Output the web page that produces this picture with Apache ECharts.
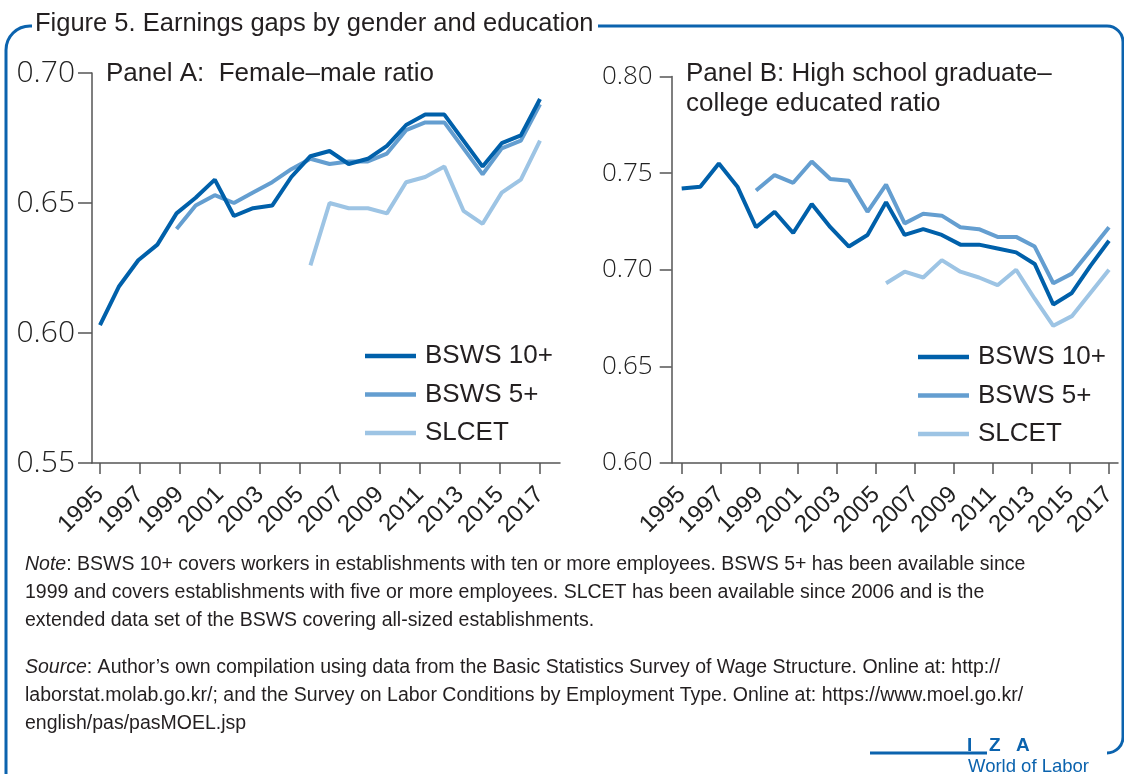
<!DOCTYPE html>
<html>
<head>
<meta charset="utf-8">
<title>Earnings gaps by gender and education</title>
<script src="https://cdn.jsdelivr.net/npm/echarts@6/dist/echarts.min.js"></script>
<style>
  html, body { margin: 0; padding: 0; background: #fff; }
  #chart { width: 1124px; height: 774px; }
</style>
</head>
<body>
<div id="chart"></div>
<script>
// data years (one point per year) and the years printed under the axis
const years = ['1995','1996','1997','1998','1999','2000','2001','2002','2003','2004','2005','2006',
  '2007','2008','2009','2010','2011','2012','2013','2014','2015','2016','2017','2018']
const tickYears = ['1995','1996','1997','1998','1999','2000','2001','2002','2003','2004','2005','2006',
  '2007','2008','2009','2010','2011','2012','2013','2014','2015','2016','2017']

// Panel A: female-male ratio
const femBsws10 = [0.603, 0.618, 0.628, 0.634, 0.646, 0.652, 0.659, 0.645, 0.648, 0.649, 0.660, 0.668,
  0.670, 0.665, 0.667, 0.672, 0.680, 0.684, 0.684, 0.674, 0.664, 0.673, 0.676, 0.690]
const femBsws5 = [null, null, null, null, 0.640, 0.649, 0.653, 0.650, 0.654, 0.658, 0.663, 0.667,
  0.665, 0.666, 0.666, 0.669, 0.678, 0.681, 0.681, 0.671, 0.661, 0.671, 0.674, 0.688]
const femSlcet = [null, null, null, null, null, null, null, null, null, null, null, 0.626,
  0.650, 0.648, 0.648, 0.646, 0.658, 0.660, 0.664, 0.647, 0.642, 0.654, 0.659, 0.674]

// Panel B: high school graduate - college educated ratio
const eduBsws10 = [0.742, 0.743, 0.755, 0.743, 0.722, 0.730, 0.719, 0.734, 0.722, 0.712, 0.718, 0.735,
  0.718, 0.721, 0.718, 0.713, 0.713, 0.711, 0.709, 0.703, 0.682, 0.688, 0.702, 0.715]
const eduBsws5 = [null, null, null, null, 0.741, 0.749, 0.745, 0.756, 0.747, 0.746, 0.730, 0.744,
  0.724, 0.729, 0.728, 0.722, 0.721, 0.717, 0.717, 0.712, 0.693, 0.698, 0.710, 0.722]
const eduSlcet = [null, null, null, null, null, null, null, null, null, null, null, 0.693,
  0.699, 0.696, 0.705, 0.699, 0.696, 0.692, 0.700, 0.685, 0.671, 0.676, 0.688, 0.700]

const seriesNames = ['BSWS 10+', 'BSWS 5+', 'SLCET']
const colors = ['#0060aa', '#649ed0', '#9dc4e4']

const border = '#0b63ae'
const axisColor = '#555'
const textColor = '#231f20'
const sans = '"Liberation Sans", Arial, sans-serif'

const chart = echarts.init(document.getElementById('chart'), null, { renderer: 'canvas' })

function dataAxis(grid) {
  return { type: 'category', gridIndex: grid, data: years, boundaryGap: false, show: false }
}
function labelAxis(grid) {
  return {
    type: 'category', gridIndex: grid, data: tickYears, boundaryGap: false, position: 'bottom',
    axisLine: { show: false, onZero: false },
    axisTick: { show: true, interval: 1, length: 11, lineStyle: { color: axisColor, width: 1.5 } },
    axisLabel: { interval: 1, rotate: 45, margin: 28, color: '#222', fontFamily: sans, fontSize: 24 },
    splitLine: { show: false }
  }
}
function decorAxis(grid) {
  return {
    type: 'value', gridIndex: grid, min: 0, max: 1,
    axisLine: { show: true, onZero: false, lineStyle: { color: axisColor, width: 1.5 } },
    axisTick: { show: false }, axisLabel: { show: false }, splitLine: { show: false }
  }
}
function valueAxis(grid, min, max, offset, tickLen, margin, fontSize) {
  return {
    type: 'value', gridIndex: grid, min: min, max: max, interval: 0.05, offset: offset,
    axisLine: { show: true, lineStyle: { color: axisColor, width: 1.5 } },
    axisTick: { show: true, length: tickLen, lineStyle: { color: axisColor, width: 1.5 } },
    axisLabel: {
      margin: margin, color: '#222', fontFamily: '"Open Sans", sans-serif', fontWeight: 300,
      fontSize: fontSize, formatter: v => v.toFixed(2)
    },
    splitLine: { show: false }
  }
}
function lineSeries(name, x, y, data, i) {
  return {
    name: name, type: 'line', xAxisIndex: x, yAxisIndex: y, data: data,
    symbol: 'none', showSymbol: false, connectNulls: false, silent: true,
    lineStyle: { color: colors[i], width: 4 }, itemStyle: { color: colors[i] }
  }
}
function legendAt(left, top) {
  return {
    orient: 'vertical', left: left, top: top, padding: 0, itemGap: 12.5,
    itemWidth: 51, itemHeight: 4.5, icon: 'rect', selectedMode: false,
    data: seriesNames,
    textStyle: { fontFamily: sans, fontSize: 26, color: textColor, padding: [0, 0, 0, 4] }
  }
}

const option = {
  animation: false,
  grid: [
    { left: 100, top: 73, width: 440, height: 390 },
    { left: 681.7, top: 76.5, width: 427.3, height: 386.5 },
    { left: 92, top: 462, width: 468, height: 1 },
    { left: 672, top: 462, width: 446, height: 1 }
  ],
  xAxis: [dataAxis(0), labelAxis(0), dataAxis(1), labelAxis(1), decorAxis(2), decorAxis(3)],
  yAxis: [
    valueAxis(0, 0.55, 0.70, 8, 14, 17, 30),
    valueAxis(1, 0.60, 0.80, 10, 12, 19, 26),
    { type: 'value', gridIndex: 2, show: false },
    { type: 'value', gridIndex: 3, show: false }
  ],
  legend: [legendAt(365, 343), legendAt(918, 344)],
  series: [
    lineSeries(seriesNames[2], 0, 0, femSlcet, 2),
    lineSeries(seriesNames[1], 0, 0, femBsws5, 1),
    lineSeries(seriesNames[0], 0, 0, femBsws10, 0),
    lineSeries(seriesNames[2], 2, 1, eduSlcet, 2),
    lineSeries(seriesNames[1], 2, 1, eduBsws5, 1),
    lineSeries(seriesNames[0], 2, 1, eduBsws10, 0)
  ],
  graphic: {
    elements: [
      // frame
      { type: 'line', shape: { x1: 6, y1: 50, x2: 6, y2: 774 }, style: { stroke: border, lineWidth: 3 } },
      { type: 'arc', shape: { cx: 30, cy: 50, r: 24, startAngle: Math.PI, endAngle: Math.PI * 1.5 }, style: { stroke: border, lineWidth: 3, fill: null } },
      { type: 'line', shape: { x1: 30, y1: 26, x2: 32, y2: 26 }, style: { stroke: border, lineWidth: 3 } },
      { type: 'line', shape: { x1: 598, y1: 26, x2: 1107, y2: 26 }, style: { stroke: border, lineWidth: 3 } },
      { type: 'arc', shape: { cx: 1107, cy: 42, r: 16, startAngle: Math.PI * 1.5, endAngle: Math.PI * 2 }, style: { stroke: border, lineWidth: 3, fill: null } },
      { type: 'line', shape: { x1: 1123, y1: 42, x2: 1123, y2: 737 }, style: { stroke: border, lineWidth: 3 } },
      { type: 'arc', shape: { cx: 1107, cy: 737, r: 16, startAngle: 0, endAngle: Math.PI * 0.5 }, style: { stroke: border, lineWidth: 3, fill: null } },
      { type: 'line', shape: { x1: 870, y1: 753, x2: 987, y2: 753 }, style: { stroke: border, lineWidth: 3 } },

      // titles
      { type: 'text', x: 35, y: 24, style: { text: 'Figure 5. Earnings gaps by gender and education', font: '25.5px ' + sans, fill: textColor, verticalAlign: 'middle' } },
      { type: 'text', x: 106, y: 74, style: { text: 'Panel A:  Female–male ratio', font: '26px ' + sans, fill: textColor, verticalAlign: 'middle' } },
      { type: 'text', x: 686, y: 74, style: { text: 'Panel B: High school graduate–', font: '26px ' + sans, fill: textColor, verticalAlign: 'middle' } },
      { type: 'text', x: 686, y: 104, style: { text: 'college educated ratio', font: '26px ' + sans, fill: textColor, verticalAlign: 'middle' } },

      // notes
      {
        type: 'text', x: 25, y: 551,
        style: {
          text: '{i|Note}{n|: BSWS 10+ covers workers in establishments with ten or more employees. BSWS 5+ has been available since}\n' +
            '{n|1999 and covers establishments with five or more employees. SLCET has been available since 2006 and is the}\n' +
            '{n|extended data set of the BSWS covering all-sized establishments.}',
          fill: textColor, fontFamily: sans, fontSize: 19.5, lineHeight: 28,
          rich: {
            i: { fontStyle: 'italic', fontFamily: sans, fontSize: 19.5, lineHeight: 28, fill: textColor },
            n: { fontFamily: sans, fontSize: 19.5, lineHeight: 28, fill: textColor }
          }
        }
      },
      {
        type: 'text', x: 25, y: 654,
        style: {
          text: '{i|Source}{n|: Author’s own compilation using data from the Basic Statistics Survey of Wage Structure. Online at: http://}\n' +
            '{n|laborstat.molab.go.kr/; and the Survey on Labor Conditions by Employment Type. Online at: https://www.moel.go.kr/}\n' +
            '{n|english/pas/pasMOEL.jsp}',
          fill: textColor, fontFamily: sans, fontSize: 19.5, lineHeight: 28,
          rich: {
            i: { fontStyle: 'italic', fontFamily: sans, fontSize: 19.5, lineHeight: 28, fill: textColor },
            n: { fontFamily: sans, fontSize: 19.5, lineHeight: 28, fill: textColor }
          }
        }
      },

      // logo
      { type: 'text', x: 967, y: 746, style: { text: 'I', font: 'bold 19px ' + sans, fill: border, verticalAlign: 'middle' } },
      { type: 'text', x: 989, y: 746, style: { text: 'Z', font: 'bold 19px ' + sans, fill: border, verticalAlign: 'middle' } },
      { type: 'text', x: 1016, y: 746, style: { text: 'A', font: 'bold 19px ' + sans, fill: border, verticalAlign: 'middle' } },
      { type: 'text', x: 968, y: 767, style: { text: 'World of Labor', font: '18.5px ' + sans, fill: border, verticalAlign: 'middle' } }
    ]
  }
}

chart.setOption(option)
</script>
</body>
</html>
